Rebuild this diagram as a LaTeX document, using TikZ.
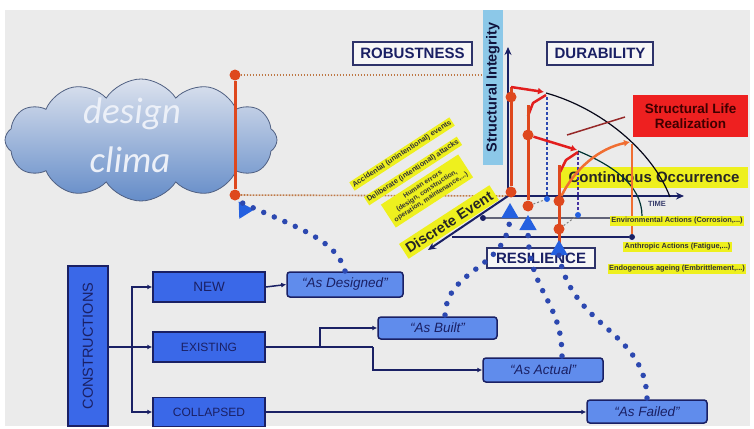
\documentclass[tikz,border=0pt]{standalone}
\usepackage{fontspec}
\setmainfont{Liberation Sans}
\newfontfamily\cali{Carlito}
\usetikzlibrary{shapes.symbols,shapes.geometric,arrows.meta,calc}
\definecolor{bg}{RGB}{235,235,235}
\definecolor{navy}{RGB}{26,32,100}
\definecolor{boxblue}{RGB}{58,104,232}
\definecolor{lightbox}{RGB}{96,140,236}
\definecolor{cloudtop}{RGB}{220,226,238}
\definecolor{cloudbot}{RGB}{100,140,200}
\definecolor{cloudedge}{RGB}{80,96,130}
\definecolor{cloudtext}{RGB}{236,240,248}
\definecolor{redl}{RGB}{222,72,30}
\definecolor{redz}{RGB}{226,30,30}
\definecolor{orangel}{RGB}{240,110,50}
\definecolor{yel}{RGB}{238,240,30}
\definecolor{redbox}{RGB}{238,32,32}
\definecolor{barblue}{RGB}{140,200,232}
\definecolor{dotblue}{RGB}{44,72,176}
\definecolor{tri}{RGB}{36,96,224}
\definecolor{brdot}{RGB}{190,120,70}
\definecolor{pointer}{RGB}{150,40,40}
\tikzset{
  reddot/.style={circle,fill=redl,minimum size=11pt,inner sep=0},
  navydot/.style={circle,fill=navy,minimum size=6pt,inner sep=0},
  redline/.style={draw=redl,line width=3pt},
  zig/.style={draw=redz,line width=2.5pt,line join=round},
  axisl/.style={draw=navy,line width=2pt,-{Stealth[length=8pt,width=7pt]}},
  brdots/.style={draw=brdot,line width=1.6pt,dash pattern=on 1.6pt off 1.4pt},
  labbox/.style={draw=navy!80!gray,line width=1.5pt,fill=white!55!bg,text=navy,font=\bfseries\fontsize{15}{15}\selectfont,inner sep=0},
  yelsmall/.style={fill=yel,font=\bfseries\fontsize{7.4}{8.2}\selectfont,inner sep=1.5pt,text=black!80},
  bluebox/.style={draw=navy,line width=1.5pt,fill=boxblue,text=navy,font=\fontsize{12}{12}\selectfont,inner sep=0},
  asbox/.style={draw=navy,line width=1.5pt,fill=lightbox,rounded corners=3pt,text=navy,font=\itshape\fontsize{13.5}{13.5}\selectfont,inner sep=0},
  conn/.style={draw=navy,line width=1.5pt,-{Latex[length=5pt,width=5pt]}},
  plainconn/.style={draw=navy,line width=1.5pt},
  bluedots/.style={draw=dotblue,line width=5.5pt,line cap=round,dash pattern=on 0pt off 11.5pt},
  tribox/.style={regular polygon,regular polygon sides=3,fill=tri,minimum size=20pt,inner sep=0},
}
\begin{document}
\begin{tikzpicture}[x=1pt,y=-1pt]
\useasboundingbox (0,0) rectangle (754,428);
\fill[white] (0,0) rectangle (754,428);
\fill[bg] (5,10) rectangle (750,426);

% cloud
\node[cloud,cloud puffs=12,cloud puff arc=115,aspect=2.2,draw=cloudedge,line width=0.8pt,
  top color=cloudtop,bottom color=cloudbot,minimum width=272pt,minimum height=122pt,inner sep=0] (cloud) at (141,140) {};
\node[font=\cali\itshape\fontsize{37}{37}\selectfont,text=cloudtext] (design) at (132,114) {design};
\node[font=\cali\itshape\fontsize{37}{37}\selectfont,text=cloudtext] (clima) at (130,160) {clima};

% axes
\coordinate (O) at (508,196);
\coordinate (yT) at (508,47);
\coordinate (xT) at (684,196);
\coordinate (zT) at (428,250);

% robustness dotted references
\node[reddot] (r1) at (235,75) {};
\node[reddot] (r2) at (235,195) {};
\coordinate (d1) at (500,75);
\draw[brdots] (r1) -- (d1);
\draw[brdots] (r2) -- (O);
\draw[redline] (r1) -- (r2);

% headline boxes
\node[labbox,minimum width=119pt,minimum height=23pt] (rob) at (412.5,53.5) {ROBUSTNESS};
\node[labbox,minimum width=106pt,minimum height=23pt] (dur) at (600,53.5) {DURABILITY};
\node[fill=barblue,rotate=90,minimum width=155pt,minimum height=20pt,inner sep=0,
  font=\bfseries\fontsize{14.5}{15}\selectfont,text=navy!60!black] (si) at (493,87.5) {Structural Integrity};

% yellow continuous label (behind curves)
\node[fill=yel,minimum width=188pt,minimum height=21pt,inner sep=0,
  font=\bfseries\fontsize{15}{15}\selectfont,text=black!85] (co) at (654,177.5) {Continuous Occurrence};

% grey and navy levels
\node[navydot] (g1) at (483,218) {};
\coordinate (g1e) at (612,218);
\draw[draw=gray!70!navy,line width=1.8pt] (g1) -- (g1e);
\coordinate (g2s) at (452,237);
\node[navydot] (g2) at (632,237) {};
\draw[draw=navy,line width=1.3pt] (g2s) -- (g2);

\draw[axisl] (O) -- (yT);
\draw[axisl] (O) -- (xT);
\draw[axisl] (O) -- (zT);
\node[font=\bfseries\fontsize{7.5}{7.5}\selectfont,text=navy!70!gray] (time) at (657,204) {TIME};

% dark decay curves
\coordinate (c1s) at (546,93);
\coordinate (c1e) at (670,197);
\draw[draw=black!75!navy,line width=1.2pt] (c1s) .. controls (600,108) and (652,150) .. (c1e);
\coordinate (c2s) at (578,151);
\coordinate (c2e) at (642,216);
\draw[draw=black!60!teal,line width=1.2pt] (c2s) .. controls (612,165) and (642,185) .. (c2e);

% dashed blue verticals
\node[navydot,fill=tri] (bd1) at (547,199) {};
\coordinate (bd1t) at (547,97);
\draw[draw=dotblue,line width=1.5pt,dash pattern=on 3pt off 2pt] (bd1t) -- (bd1);
\node[navydot,fill=tri] (bd2) at (578,215) {};
\coordinate (bd2t) at (578,152);
\draw[draw=dotblue!70!violet,line width=1.3pt,dash pattern=on 3pt off 2pt] (bd2t) -- (bd2);

% red paths
\node[reddot] (a1) at (511,97) {};
\node[reddot] (a2) at (511,192) {};
\coordinate (a0) at (511,87);
\draw[redline] (a0) -- (a2);
\coordinate (z1) at (544,92);
\draw[zig,-{Latex[length=6pt,width=7pt]}] (a0) -- (z1);
\coordinate (z2) at (546,95);
\coordinate (z3) at (533,103);
\coordinate (z4) at (528,116);
\draw[zig] (z2) -- (z3) -- (z4);

\node[reddot] (b1) at (528,135) {};
\node[reddot] (b2) at (528,206) {};
\coordinate (b0) at (528,105);
\draw[redline] (b0) -- (b2);
\draw[draw=gray,line width=1pt,dash pattern=on 2pt off 2pt] (b2) -- (bd1);
\coordinate (y1) at (577,150);
\draw[zig,-{Latex[length=6pt,width=7pt]}] (b1) -- (y1);
\coordinate (y2) at (578,152);
\coordinate (y3) at (566,160);
\coordinate (y4) at (560,172);
\draw[zig] (y2) -- (y3) -- (y4);

\node[reddot] (e1) at (559,201) {};
\node[reddot] (e2) at (559,229) {};
\coordinate (e0) at (559,165);
\coordinate (e3) at (559,258);
\draw[redline] (e0) -- (e3);
\draw[draw=gray,line width=1pt,dash pattern=on 2pt off 2pt] (e2) -- (bd2);

% orange recovery curve
\coordinate (o1) at (630,142);
\draw[draw=orangel,line width=2.5pt,-{Latex[length=6pt,width=7pt]}] (e1) .. controls (575,168) and (600,148) .. (o1);
\coordinate (o2) at (632,144);
\draw[draw=orangel,line width=1.5pt] (o2) -- (g2);

% structural life label
\node[fill=redbox,minimum width=115pt,minimum height=42pt,inner sep=0,align=center,
  font=\bfseries\fontsize{13.5}{15}\selectfont,text=black!75!red] (slr) at (690.5,116) {Structural Life\\Realization};
\coordinate (p1) at (567,135);
\coordinate (p2) at (625,117);
\draw[draw=pointer,line width=1.5pt] (p1) -- (p2);

\node[yelsmall] (env) at (677,221) {Environmental Actions (Corrosion,...)};
\node[yelsmall] (ant) at (677.5,247) {Anthropic Actions (Fatigue,...)};
\node[yelsmall] (endo) at (677,269) {Endogenous ageing (Embrittlement,...)};

% discrete event labels
\node[yelsmall,rotate=33] (acc) at (402,154) {Accidental (unintentional) events};
\node[yelsmall,rotate=33] (del) at (413,171) {Deliberate (intentional) attacks};
\node[yelsmall,rotate=33,align=center,inner sep=3pt,font=\bfseries\fontsize{6.8}{7.6}\selectfont] (hum) at (427,191) {Human errors\\(design, construction,\\operation, maintenance,...)};
\node[fill=yel,rotate=33,inner sep=3.5pt,font=\bfseries\fontsize{14.5}{14.5}\selectfont,text=black!85] (de) at (449,222) {Discrete Event};

\node[labbox,minimum width=108pt,minimum height=20pt] (res) at (541,258) {RESILIENCE};

% triangles
\node[tribox,rotate=32] (t0) at (244,210) {};
\node[tribox] (t1) at (510,213) {};
\node[tribox] (t2) at (528,225) {};
\node[tribox] (t3) at (559,250) {};

% bottom classification
\node[bluebox,rotate=90,minimum width=160pt,minimum height=40pt,font=\fontsize{14.5}{14.5}\selectfont] (cons) at (88,346) {CONSTRUCTIONS};
\node[bluebox,minimum width=112pt,minimum height=30pt,font=\fontsize{13.5}{13.5}\selectfont] (new) at (209,287) {NEW};
\node[bluebox,minimum width=112pt,minimum height=30pt] (exist) at (209,347) {EXISTING};
\node[bluebox,minimum width=112pt,minimum height=29pt] (coll) at (209,412) {COLLAPSED};
\node[asbox,minimum width=116pt,minimum height=25pt] (asd) at (345,284.5) {``As Designed''};
\node[asbox,minimum width=119pt,minimum height=22pt] (asb) at (437.5,328) {``As Built''};
\node[asbox,minimum width=120pt,minimum height=24pt] (asa) at (543,370) {``As Actual''};
\node[asbox,minimum width=120pt,minimum height=23pt] (asf) at (647,411.5) {``As Failed''};

\coordinate (tr) at (132,347);
\draw[conn] (cons.south |- exist.west) -- (exist.west);
\draw[conn] (tr) |- (new.west);
\draw[conn] (tr) |- (coll.west);
\draw[conn] (new.east) -- (asd.west);
\coordinate (k1) at (320,347);
\coordinate (k2) at (373,347);
\draw[plainconn] (exist.east) -- (k2);
\draw[conn] (k1) |- (asb.west);
\draw[conn] (k2) |- (asa.west);
\draw[conn] (coll.east) -- (coll.east -| asf.west);

% dotted blue links
\coordinate (s0) at (345,271);
\draw[bluedots] (s0) .. controls (336,238) and (292,226) .. (t0.corner 1);
\coordinate (s1) at (445,315);
\draw[bluedots] (s1) .. controls (447,268) and (506,270) .. (t1.south);
\coordinate (s2) at (562,356);
\draw[bluedots] (s2) .. controls (562,300) and (528,292) .. (t2.south);
\coordinate (s3) at (647,398);
\draw[bluedots] (s3) .. controls (645,330) and (572,328) .. (t3.south);
\end{tikzpicture}
\end{document}
